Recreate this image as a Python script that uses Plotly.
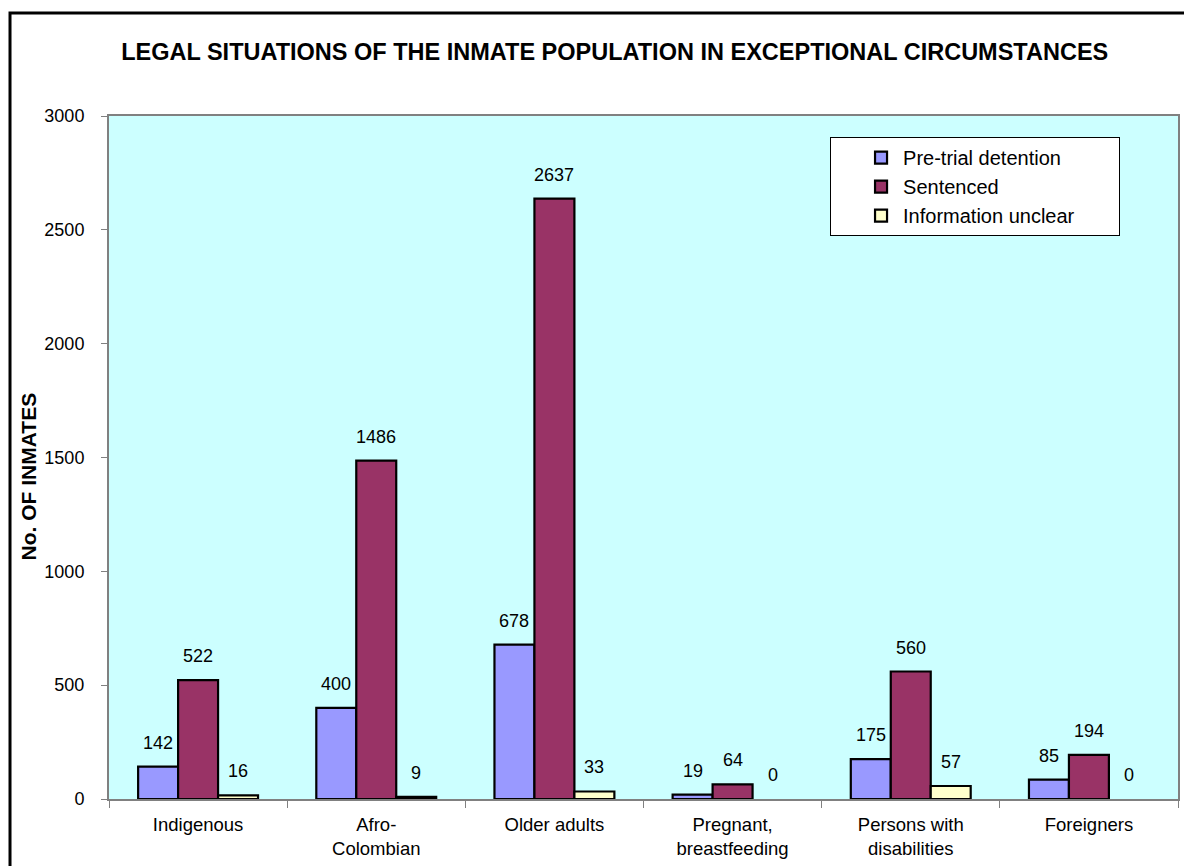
import plotly.graph_objects as go

categories = ["Indigenous", "Afro-<br>Colombian", "Older adults", "Pregnant,<br>breastfeeding",
              "Persons with<br>disabilities", "Foreigners"]
pretrial = [142, 400, 678, 19, 175, 85]
sentenced = [522, 1486, 2637, 64, 560, 194]
unclear = [16, 9, 33, 0, 57, 0]
series_names = ["Pre-trial detention", "Sentenced", "Information unclear"]
series_colors = ["#9999FF", "#993366", "#FFFFCC"]
y_ticks = [0, 500, 1000, 1500, 2000, 2500, 3000]

FONT = "Liberation Sans, Arial, sans-serif"
series_values = [pretrial, sentenced, unclear]

fig = go.Figure()
pad = "\u00a0" * 7
for name, vals, col in zip(series_names, series_values, series_colors):
    fig.add_trace(go.Bar(
        x=categories, y=vals, name=name + pad,
        marker=dict(color=col,
                    line=dict(color="black", width=[2.2 if v > 0 else 0 for v in vals])),
    ))

# value labels above each bar
shifts = [-40, 0, 40]
for vals, xs in zip(series_values, shifts):
    for c, v in zip(categories, vals):
        fig.add_annotation(x=c, y=v, text=str(v), showarrow=False,
                           xshift=xs, yshift=12, yanchor="bottom",
                           font=dict(family=FONT, size=18, color="black"))

# y axis title
fig.add_annotation(xref="paper", yref="paper", x=-0.075, y=0.472,
                   xanchor="center", yanchor="middle",
                   text="<b>No. OF INMATES</b>", textangle=-90, showarrow=False,
                   font=dict(family=FONT, size=21, color="black"))

# outer frame
fig.add_shape(type="rect", xref="paper", yref="paper",
              x0=-0.0926, x1=1.06, y0=-0.25, y1=1.1508,
              line=dict(color="black", width=3), fillcolor="rgba(0,0,0,0)", layer="below")

fig.update_layout(
    width=1192, height=866,
    margin=dict(l=101, r=22, t=108, b=75),
    paper_bgcolor="white", plot_bgcolor="#CCFFFF",
    barmode="group", bargap=0.327, bargroupgap=0,
    font=dict(family=FONT, size=18, color="black"),
    title=dict(text="<b>LEGAL SITUATIONS OF THE INMATE POPULATION IN EXCEPTIONAL CIRCUMSTANCES</b>",
               x=0.509, xanchor="center", y=0.949, yanchor="middle",
               font=dict(family=FONT, size=23.5, color="black")),
    legend=dict(x=0.6745, y=0.969, xanchor="left", yanchor="top",
                bgcolor="white", bordercolor="black", borderwidth=1,
                font=dict(family=FONT, size=20), tracegroupgap=0,
                itemwidth=34, indentation=28),
    showlegend=True,
)
fig.update_xaxes(type="category", showline=True, linecolor="#808080", linewidth=2,
                 mirror=True, ticks="outside", tickson="boundaries", ticklen=7,
                 tickcolor="#808080", showgrid=False, tickfont=dict(size=18.5),
                 ticklabelstandoff=8)
fig.update_yaxes(range=[0, 3000], tickvals=y_ticks, showline=True, linecolor="#808080",
                 linewidth=2, mirror=True, ticks="outside", ticklen=6, tickcolor="#808080",
                 showgrid=False, zeroline=False, tickfont=dict(size=18),
                 ticklabelstandoff=13)

fig.write_html("out.html")
